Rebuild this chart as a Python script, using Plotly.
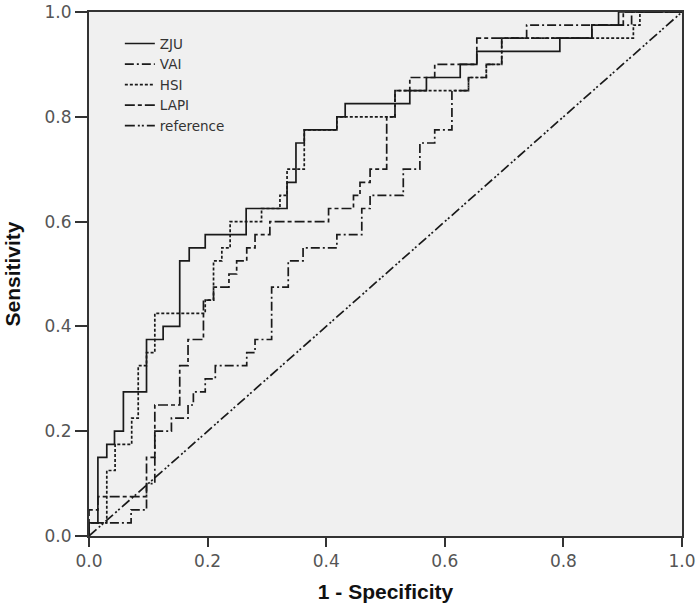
import plotly.graph_objects as go

# ROC corner points (fpr, tpr) - drawn as horizontal-then-vertical steps
zju_fpr = [0, 0, 0.015, 0.03, 0.043, 0.058, 0.097, 0.125, 0.153, 0.169, 0.196, 0.265, 0.334, 0.349, 0.363, 0.418, 0.432, 0.541, 0.569, 0.626, 0.654, 0.794, 0.848, 0.893, 1.0]
zju_tpr = [0, 0.025, 0.15, 0.175, 0.2, 0.275, 0.375, 0.4, 0.525, 0.55, 0.575, 0.625, 0.675, 0.75, 0.775, 0.8, 0.825, 0.85, 0.875, 0.9, 0.925, 0.95, 0.975, 1.0, 1.0]

vai_fpr = [0, 0, 0.071, 0.097, 0.111, 0.139, 0.167, 0.176, 0.196, 0.213, 0.266, 0.28, 0.308, 0.336, 0.361, 0.418, 0.46, 0.474, 0.53, 0.558, 0.583, 0.612, 0.64, 0.67, 0.696, 0.738, 0.915, 1.0]
vai_tpr = [0, 0.025, 0.05, 0.1, 0.2, 0.225, 0.25, 0.275, 0.3, 0.325, 0.35, 0.375, 0.475, 0.525, 0.55, 0.575, 0.625, 0.65, 0.7, 0.75, 0.775, 0.85, 0.875, 0.9, 0.95, 0.975, 1.0, 1.0]

hsi_fpr = [0, 0, 0.03, 0.044, 0.072, 0.083, 0.097, 0.111, 0.196, 0.21, 0.224, 0.238, 0.291, 0.322, 0.334, 0.363, 0.418, 0.516, 0.64, 0.67, 0.696, 0.918, 0.929, 1.0]
hsi_tpr = [0, 0.025, 0.125, 0.175, 0.225, 0.325, 0.35, 0.425, 0.45, 0.525, 0.55, 0.6, 0.625, 0.65, 0.7, 0.775, 0.8, 0.85, 0.875, 0.9, 0.95, 0.975, 1.0, 1.0]

lapi_fpr = [0, 0, 0.015, 0.097, 0.111, 0.153, 0.167, 0.193, 0.21, 0.236, 0.249, 0.266, 0.28, 0.305, 0.404, 0.446, 0.457, 0.474, 0.502, 0.516, 0.541, 0.583, 0.654, 0.848, 0.901, 1.0]
lapi_tpr = [0, 0.05, 0.075, 0.15, 0.25, 0.325, 0.375, 0.45, 0.475, 0.5, 0.525, 0.55, 0.575, 0.6, 0.625, 0.65, 0.675, 0.7, 0.8, 0.85, 0.875, 0.9, 0.95, 0.975, 1.0, 1.0]

ref_x = [0, 1]
ref_y = [0, 1]

series = [
    ("ZJU", zju_fpr, zju_tpr, "solid", "hv"),
    ("VAI", vai_fpr, vai_tpr, "9px,3px,2px,3px", "hv"),
    ("HSI", hsi_fpr, hsi_tpr, "3px,2px", "hv"),
    ("LAPI", lapi_fpr, lapi_tpr, "10px,3px,4px,3px", "hv"),
    ("reference", ref_x, ref_y, "10px,3px,2px,2px,2px,3px", "linear"),
]

fig = go.Figure()
for name, xs, ys, dash, shape in series:
    fig.add_trace(go.Scatter(
        x=xs, y=ys, mode="lines", name=name,
        line=dict(color="#1a1a1a", width=1.7, dash=dash, shape=shape),
    ))

axis_common = dict(
    range=[0, 1], tickvals=[0, 0.2, 0.4, 0.6, 0.8, 1.0],
    ticktext=["0.0", "0.2", "0.4", "0.6", "0.8", "1.0"],
    showgrid=False, zeroline=False, showline=True, linecolor="#333333",
    linewidth=2, mirror=True, ticks="outside", tickcolor="#333333",
    tickwidth=2, tickfont=dict(family="DejaVu Sans", size=17, color="#555555"),
)

fig.update_layout(
    width=700, height=604,
    margin=dict(l=89, r=18, t=12, b=68, autoexpand=False),
    paper_bgcolor="white", plot_bgcolor="#f0f0f0",
    showlegend=True,
    legend=dict(
        x=0.052, y=0.969, xanchor="left", yanchor="top",
        bgcolor="rgba(0,0,0,0)", borderwidth=0,
        font=dict(family="DejaVu Sans", size=13.5, color="#333333"),
        itemwidth=30, tracegroupgap=0,
    ),
    xaxis=dict(**axis_common, ticklen=9,
               title=dict(text="<b>1 - Specificity</b>", standoff=14,
                          font=dict(family="Liberation Sans, Arial", size=21, color="#111111"))),
    yaxis=dict(**axis_common, ticklen=12,
               title=dict(text="<b>Sensitivity</b>", standoff=18,
                          font=dict(family="Liberation Sans, Arial", size=21, color="#111111"))),
)

fig.write_html("out.html", config={"displayModeBar": False},
               post_script="document.body.style.margin='0px';")
